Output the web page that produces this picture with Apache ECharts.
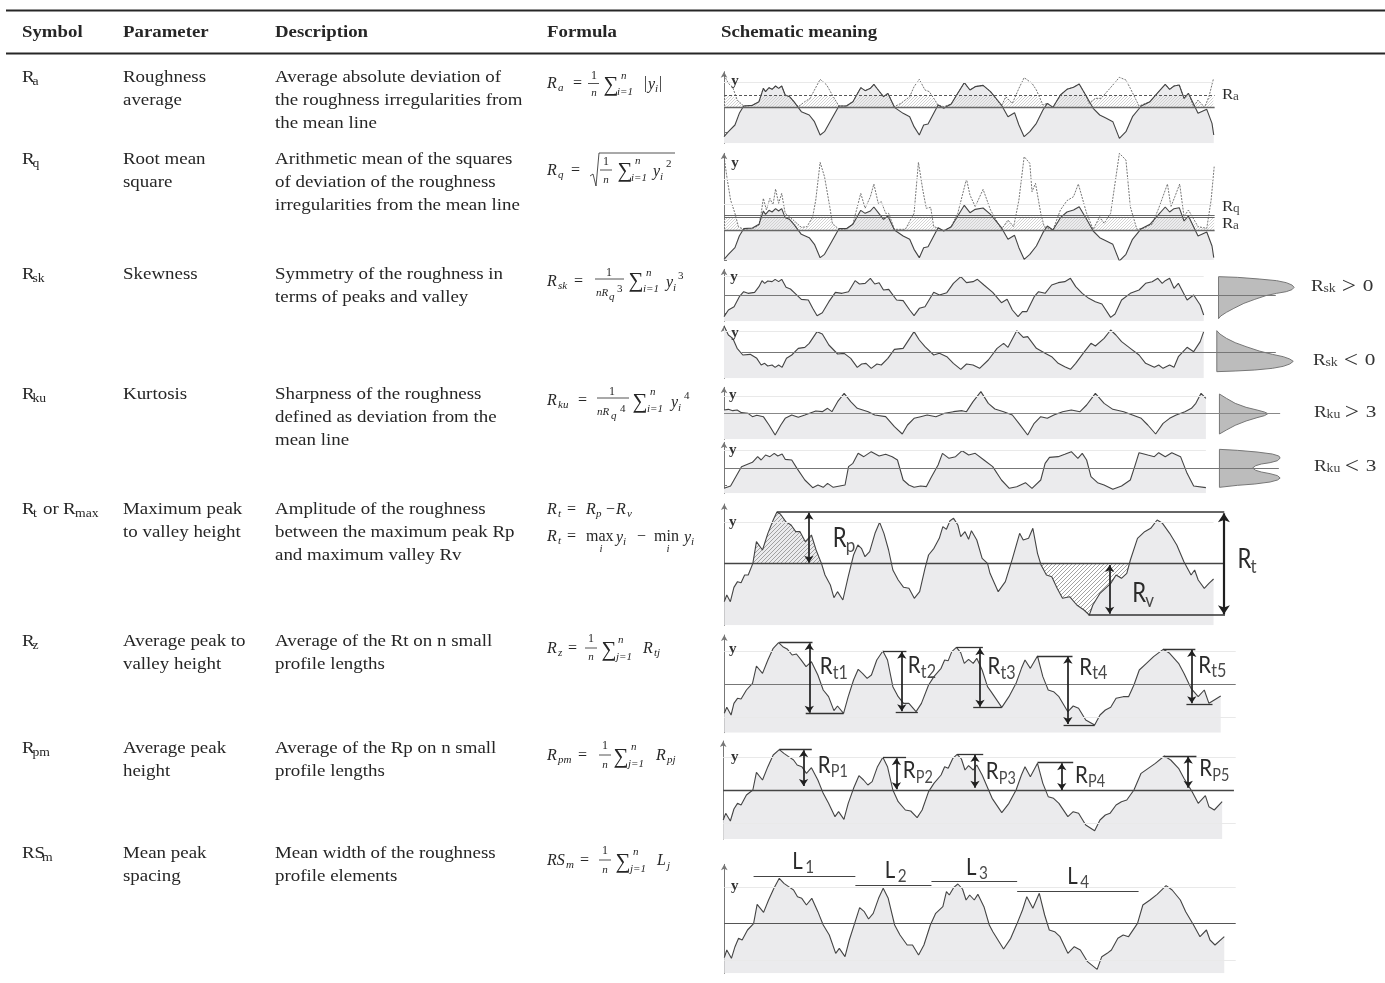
<!DOCTYPE html>
<html><head><meta charset="utf-8">
<style>html,body{margin:0;padding:0;background:#fff}#c{width:1385px;height:983px}</style>
<script src="https://cdn.jsdelivr.net/npm/echarts@6/dist/echarts.min.js"></script>
</head><body><div id="c"></div>
<script>
// ---------- table text ----------
const headers = ['Symbol','Parameter','Description','Formula','Schematic meaning'];
const symbols = [[['R',''],['a','s']],[['R',''],['q','s']],[['R',''],['sk','s']],[['R',''],['ku','s']],
  [['R',''],['t','s'],['or',''],['R',''],['max','s']],[['R',''],['z','s']],[['R',''],['pm','s']],[['RS',''],['m','s']]];
const parameters = [['Roughness','average'],['Root mean','square'],['Skewness'],['Kurtosis'],
  ['Maximum peak','to valley height'],['Average peak to','valley height'],['Average peak','height'],['Mean peak','spacing']];
const descriptions = [
  ['Average absolute deviation of','the roughness irregularities from','the mean line'],
  ['Arithmetic mean of the squares','of deviation of the roughness','irregularities from the mean line'],
  ['Symmetry of the roughness in','terms of peaks and valley'],
  ['Sharpness of the roughness','defined as deviation from the','mean line'],
  ['Amplitude of the roughness','between the maximum peak Rp','and maximum valley Rv'],
  ['Average of the Rt on n small','profile lengths'],
  ['Average of the Rp on n small','profile lengths'],
  ['Mean width of the roughness','profile elements']];

// ---------- profile readings: [position, level] ----------
const profileRa = [[55,410],[65,395],[80,375],[90,340],[100,318],[120,316],[135,305],[145,265],[150,275],[158,263],[165,268],[173,258],[180,265],[187,258],[195,285],[205,290],[215,305],[232,335],[250,345],[262,365],[275,405],[285,395],[300,360],[318,318],[335,318],[350,305],[368,263],[378,272],[390,265],[398,253],[408,270],[420,290],[430,280],[445,322],[465,340],[480,350],[490,380],[502,405],[512,375],[522,372],[545,315],[558,325],[575,312],[590,280],[605,248],[618,270],[630,260],[648,256],[665,275],[690,315],[705,350],[720,338],[730,375],[742,410],[755,395],[770,370],[785,330],[795,310],[808,322],[825,285],[840,268],[855,262],[868,252],[885,290],[900,325],[915,345],[930,355],[945,365],[960,415],[975,395],[990,350],[1010,318],[1030,305],[1050,275],[1065,253],[1075,268],[1085,258],[1097,255],[1108,295],[1118,280],[1140,340],[1160,328],[1172,370],[1176,405]];
const rectifiedRa = [[55,225],[65,250],[75,262],[85,300],[100,318],[120,316],[135,305],[145,265],[150,275],[158,263],[165,268],[173,258],[180,265],[187,258],[195,285],[205,290],[215,305],[225,320],[240,305],[252,295],[262,270],[275,238],[290,255],[305,290],[318,318],[335,318],[350,305],[368,263],[378,272],[390,265],[398,253],[408,270],[420,290],[430,280],[445,320],[460,310],[480,290],[490,260],[502,238],[515,270],[525,275],[545,315],[558,320],[575,312],[590,280],[605,248],[618,270],[630,260],[648,256],[665,275],[690,318],[700,290],[715,310],[730,265],[742,233],[760,250],[770,270],[785,315],[795,310],[808,322],[825,285],[840,268],[855,262],[868,252],[885,290],[890,310],[905,295],[918,295],[935,270],[945,255],[960,232],[975,240],[985,265],[1005,318],[1030,305],[1050,275],[1065,253],[1075,268],[1085,258],[1097,255],[1108,295],[1118,280],[1130,320],[1140,300],[1155,322],[1165,290],[1175,238]];
const squaredRq = [[55,470],[62,535],[70,600],[80,640],[88,680],[100,688],[120,686],[135,675],[140,640],[145,595],[152,630],[160,595],[167,615],[173,567],[180,610],[187,580],[195,640],[205,650],[232,682],[245,680],[258,650],[265,600],[275,487],[285,530],[297,620],[303,670],[318,688],[335,686],[350,672],[368,580],[378,625],[390,590],[398,552],[408,610],[415,605],[425,640],[432,640],[445,688],[470,688],[490,640],[500,487],[510,570],[518,625],[528,622],[535,680],[545,684],[558,692],[575,680],[590,640],[610,537],[618,585],[630,620],[648,568],[665,630],[690,688],[705,660],[718,680],[730,600],[742,470],[755,490],[760,575],[768,550],[780,640],[788,680],[808,690],[825,630],[840,602],[855,590],[866,552],[885,640],[900,688],[915,650],[925,670],[940,640],[950,550],[960,460],[975,480],[985,620],[1000,688],[1015,685],[1035,672],[1050,625],[1070,552],[1078,620],[1087,590],[1098,552],[1108,650],[1118,630],[1140,680],[1160,685],[1170,600],[1177,500]];
const profileSkPos = [[55,170],[65,150],[78,140],[90,110],[100,95],[110,100],[125,97],[135,80],[142,62],[148,70],[155,63],[165,65],[172,58],[180,65],[187,58],[197,82],[207,87],[220,103],[232,118],[248,120],[258,145],[268,167],[280,158],[295,125],[310,97],[325,100],[340,95],[355,62],[365,72],[378,70],[390,55],[400,72],[410,68],[420,90],[432,88],[450,120],[465,122],[480,150],[490,167],[502,145],[515,140],[535,97],[548,105],[565,98],[580,70],[597,50],[610,68],[625,65],[635,58],[650,75],[670,97],[690,128],[703,118],[715,150],[728,170],[738,155],[748,155],[765,110],[775,95],[790,100],[805,75],[820,68],[835,65],[848,55],[860,80],[875,100],[890,115],[905,125],[920,132],[940,172],[950,162],[965,120],[985,100],[1005,90],[1020,70],[1035,65],[1048,55],[1058,70],[1065,62],[1075,55],[1085,85],[1095,70],[1115,120],[1130,105],[1145,135],[1153,165]];
const profileSkNeg = [[55,198],[65,225],[75,235],[85,265],[98,285],[115,283],[130,295],[140,315],[148,310],[155,318],[165,315],[172,322],[180,315],[188,322],[198,295],[210,285],[225,265],[240,262],[250,250],[268,215],[280,222],[295,255],[315,282],[330,280],[345,295],[360,322],[370,312],[380,310],[392,325],[405,312],[415,315],[430,295],[445,268],[465,265],[480,235],[490,215],[502,240],[515,260],[535,285],[548,280],[565,290],[580,310],[597,328],[610,312],[625,315],[640,325],[660,300],[680,265],[695,250],[705,262],[725,212],[740,232],[750,230],[770,265],[790,280],[805,290],[820,310],[835,320],[848,328],[860,310],[880,275],[895,250],[905,258],[925,235],[940,210],[952,225],[965,245],[985,265],[1005,285],[1020,310],[1040,322],[1050,315],[1060,325],[1075,315],[1085,322],[1095,290],[1115,262],[1130,275],[1145,245],[1153,215]];
const profileKuHigh = [[55,450],[65,448],[75,452],[85,450],[95,458],[110,460],[120,470],[130,466],[145,470],[158,495],[172,525],[185,495],[195,475],[210,465],[225,472],[240,465],[265,453],[280,455],[292,445],[302,455],[315,425],[330,400],[345,425],[360,445],[385,455],[400,465],[425,470],[445,500],[463,522],[475,495],[490,475],[505,470],[520,465],[540,470],[560,460],[580,455],[600,452],[610,455],[625,425],[643,395],[660,430],[675,447],[695,455],[715,465],[730,490],[750,525],[765,490],[780,470],[795,475],[810,465],[830,455],[850,450],[870,455],[885,435],[905,400],[925,430],[945,448],[970,455],[990,465],[1010,475],[1025,495],[1043,522],[1060,490],[1075,475],[1090,465],[1110,455],[1125,445],[1135,430],[1147,400],[1158,415]];
const profileKuLow = [[55,685],[70,678],[82,650],[95,620],[120,607],[132,590],[140,600],[150,585],[160,590],[170,580],[178,588],[188,582],[195,598],[210,600],[222,625],[240,660],[258,683],[270,675],[282,682],[292,670],[305,682],[320,678],[332,675],[340,620],[350,610],[362,580],[375,590],[392,575],[410,588],[425,583],[440,590],[452,600],[465,660],[478,675],[490,682],[505,678],[518,680],[530,650],[545,615],[555,580],[570,595],[585,590],[600,572],[615,585],[630,580],[650,600],[670,620],[690,660],[708,685],[725,680],[745,668],[760,685],[780,660],[790,610],[800,592],[820,590],[835,583],[850,575],[865,595],[875,580],[885,600],[895,650],[910,668],[925,675],[945,688],[965,678],[985,660],[995,620],[1005,578],[1025,585],[1040,590],[1050,578],[1065,590],[1080,578],[1100,590],[1115,640],[1130,678],[1158,683]];
const profileRt = [[68,305],[75,285],[85,305],[95,262],[105,245],[115,248],[125,225],[135,225],[148,190],[158,125],[175,150],[190,100],[205,60],[215,37],[225,42],[240,65],[255,75],[268,95],[280,95],[295,125],[312,105],[325,150],[340,190],[350,225],[365,255],[375,293],[385,275],[400,300],[415,230],[430,165],[442,135],[452,145],[462,170],[475,155],[490,100],[503,67],[515,100],[528,150],[540,210],[555,240],[570,262],[585,265],[600,295],[615,275],[630,205],[640,165],[655,145],[670,115],[680,80],[690,88],[700,62],[710,55],[722,75],[730,110],[742,95],[752,118],[760,92],[775,120],[790,175],[805,190],[812,220],[835,275],[855,245],[875,175],[895,100],[905,120],[920,115],[932,85],[945,160],[955,195],[970,225],[985,230],[1000,265],[1015,295],[1035,290],[1055,315],[1075,330],[1090,345],[1100,315],[1120,280],[1135,265],[1150,250],[1165,225],[1180,235],[1195,220],[1205,180],[1225,115],[1245,95],[1262,85],[1280,60],[1295,70],[1315,100],[1335,135],[1355,185],[1375,225],[1385,210],[1395,240],[1412,265],[1425,250],[1438,237]];
const profileRz = [[68,640],[75,622],[87,645],[95,610],[105,595],[115,597],[130,570],[147,550],[158,498],[175,520],[190,480],[205,445],[220,428],[232,440],[245,448],[258,465],[270,462],[282,478],[297,500],[312,485],[330,525],[345,570],[360,590],[375,632],[385,618],[402,640],[415,590],[430,540],[443,508],[455,520],[468,535],[480,525],[495,480],[512,453],[525,480],[540,560],[555,590],[570,610],[585,610],[605,635],[620,610],[640,555],[655,530],[675,505],[685,480],[695,482],[705,455],[718,442],[730,458],[740,490],[752,478],[765,490],[775,475],[790,510],[805,560],[815,575],[845,622],[865,590],[885,550],[900,505],[910,480],[925,505],[945,468],[960,530],[975,570],[990,575],[1005,590],[1030,635],[1045,618],[1060,625],[1080,660],[1105,675],[1120,645],[1135,630],[1150,622],[1165,595],[1185,590],[1200,590],[1215,555],[1230,510],[1250,490],[1270,470],[1297,448],[1315,460],[1340,490],[1355,520],[1375,565],[1395,590],[1412,570],[1425,610],[1440,600],[1458,588]];
const profileRpm = [[65,255],[72,235],[85,258],[95,222],[105,205],[115,210],[130,180],[148,165],[158,112],[175,135],[190,95],[205,60],[222,44],[235,55],[248,65],[262,75],[272,90],[285,95],[298,115],[312,98],[330,135],[345,175],[360,205],[378,245],[388,230],[403,253],[415,205],[430,160],[445,122],[458,135],[470,150],[482,140],[497,95],[512,67],[525,95],[540,165],[555,200],[575,225],[590,228],[608,248],[622,225],[640,170],[655,145],[675,120],[685,95],[695,100],[708,70],[720,58],[732,72],[742,105],[752,92],[765,105],[775,90],[790,120],[808,165],[818,190],[845,233],[865,205],[885,165],[900,120],[910,95],[925,125],[945,85],[960,145],[975,185],[990,190],[1005,205],[1030,245],[1045,230],[1060,235],[1080,270],[1105,287],[1120,255],[1135,240],[1148,235],[1165,210],[1180,200],[1195,195],[1215,165],[1235,115],[1255,100],[1275,85],[1300,63],[1318,75],[1340,100],[1355,130],[1378,170],[1395,205],[1415,182],[1425,215],[1440,225],[1462,200]];
const profileRsm = [[68,668],[75,645],[88,670],[98,635],[108,610],[118,615],[133,585],[150,566],[160,508],[178,532],[192,495],[207,460],[222,430],[235,445],[248,455],[262,465],[273,485],[285,490],[298,510],[313,490],[330,530],[345,570],[362,600],[380,655],[390,640],[406,665],[418,615],[433,565],[447,518],[460,530],[472,552],[485,535],[500,490],[513,460],[527,490],[545,570],[560,600],[580,630],[595,630],[612,660],[627,630],[645,570],[660,535],[680,515],[690,470],[698,480],[710,458],[722,447],[735,462],[745,495],[755,480],[768,495],[778,478],[795,515],[810,570],[820,590],[850,642],[870,610],[888,565],[903,525],[915,485],[932,520],[950,475],[965,540],[978,585],[993,590],[1008,605],[1030,655],[1048,635],[1065,645],[1085,680],[1112,703],[1125,665],[1140,655],[1152,645],[1170,610],[1185,600],[1200,605],[1225,565],[1240,510],[1260,495],[1280,478],[1305,452],[1322,465],[1345,495],[1360,530],[1382,570],[1400,605],[1418,585],[1428,615],[1442,630],[1468,605]];
// height distributions beside the skewness and kurtosis profiles
const densitySkPos = [[1187,50],[1230,52],[1280,57],[1320,62],[1342,68],[1355,75],[1360,82],[1355,89],[1342,95],[1320,100],[1295,107],[1270,118],[1245,130],[1222,145],[1205,157],[1192,168],[1187,176]];
const densitySkNeg = [[1183,212],[1190,222],[1205,235],[1225,248],[1250,260],[1280,273],[1310,283],[1335,290],[1350,297],[1358,304],[1350,312],[1335,319],[1310,325],[1270,330],[1225,333],[1183,335]];
const densityKuHigh = [[1189,402],[1205,415],[1225,430],[1250,442],[1275,450],[1292,456],[1300,461],[1292,467],[1275,473],[1250,483],[1225,496],[1205,510],[1189,522]];
const densityKuLow = [[1189,568],[1230,571],[1275,576],[1310,582],[1325,588],[1328,594],[1322,602],[1305,608],[1285,612],[1272,617],[1265,624],[1272,631],[1285,636],[1305,641],[1322,647],[1328,654],[1322,660],[1305,666],[1270,672],[1230,676],[1189,682]];
// peak / valley levels: [peak x, far x, level]
const levelsRz = [[222,315,428],[296,402,640],[512,578,453],[548,610,636],[718,792,442],[765,845,622],[945,1043,468],[1018,1105,675],[1297,1387,448],[1362,1435,612]];
const arrowsRz = [[306,430,638],[565,455,634],[784,445,620],[1030,470,672],[1377,450,610]];
const levelsRpm = [[222,313,44],[512,577,67],[720,793,58],[945,1045,82],[1300,1390,63]];
const arrowsRpm = [[290,46,153],[550,70,163],[770,60,158],[1013,85,165],[1367,65,158]];
const spacingL = [[150,435,425],[435,648,452],[648,888,440],[888,1228,468]];

// ---------- helpers ----------
const SERIF='"Liberation Serif"', LBL='"Lato"';
const INK='#262626', CURVE='#444', FILL='#ebebed';
const graphics=[], grids=[], xAxes=[], yAxes=[], series=[];
function txt(x,y,text,font,fill,align,sx){graphics.push({type:'text',x,y,scaleX:sx||1,silent:true,z:50,style:{text,font,fill:fill||INK,textAlign:align||'left',textBaseline:'middle',textVerticalAlign:'middle'}});}
function rule(x1,y1,x2,y2,w,c){graphics.push({type:'line',silent:true,z:50,shape:{x1,y1,x2,y2},style:{stroke:c||INK,lineWidth:w||1}});}

function hatch(color,step){const c=document.createElement('canvas');c.width=c.height=step;const g=c.getContext('2d');g.strokeStyle=color;g.lineWidth=0.9;
  g.beginPath();g.moveTo(-1,step+1);g.lineTo(step+1,-1);g.moveTo(-1,1);g.lineTo(1,-1);g.moveTo(step-1,step+1);g.lineTo(step+1,step-1);g.stroke();return {image:c,repeat:'repeat'};}

function panel(p){
  const i=grids.length; p.i=i;
  grids.push({left:p.ox+p.L/p.sx,width:(p.R-p.L)/p.sx,top:p.oy+p.T/3,height:(p.B-p.T)/3,containLabel:false});
  xAxes.push({gridIndex:i,type:'value',min:p.L,max:p.R,show:false});
  yAxes.push({gridIndex:i,type:'value',min:p.mean-p.B,max:p.mean-p.T,
    axisLine:{show:true,onZero:false,symbol:['none','arrow'],symbolSize:[5,6],lineStyle:{color:'#777',width:1}},
    axisTick:{show:true,inside:true,length:3,customValues:p.ticks.map(t=>p.mean-t),lineStyle:{color:'#777'}},
    axisLabel:{show:false},splitLine:{show:false}});
  return p;
}
const H=(p,data,base)=>data.map(d=>[d[0],(base===undefined?p.mean:base)-d[1]]);
function seg(p,x1,y1,x2,y2,o){o=o||{};return [{coord:[x1,p.mean-y1],symbol:o.a?'arrow':'none',symbolSize:o.s||8,lineStyle:{color:o.c||'#555',width:o.w||1.2,type:o.t||'solid'}},{coord:[x2,p.mean-y2],symbol:o.a?'arrow':'none',symbolSize:o.s||8}];}
function profile(p,data,base,marks){
  series.push({type:'line',xAxisIndex:p.i,yAxisIndex:p.i,data:H(p,data,base),showSymbol:false,symbol:'none',z:2,silent:true,
    lineStyle:{width:0},areaStyle:{color:FILL,opacity:1,origin:'start'}});
  series.push({type:'line',xAxisIndex:p.i,yAxisIndex:p.i,data:H(p,data,base),showSymbol:false,symbol:'none',z:5,silent:true,
    lineStyle:{width:1.1,color:CURVE},
    markLine:{silent:true,animation:false,symbol:'none',label:{show:false},lineStyle:{type:'solid'},data:marks,z:6}});
}
function hatched(p,data,base,color,clip){
  series.push({type:'line',xAxisIndex:p.i,yAxisIndex:p.i,showSymbol:false,symbol:'none',z:3,silent:true,
    data:H(p,data,base).map(d=>[d[0],clip(d[1])]),lineStyle:{width:0},areaStyle:{color,opacity:1,origin:0}});
}
function dashedCurve(p,data,base){
  series.push({type:'line',xAxisIndex:p.i,yAxisIndex:p.i,showSymbol:false,symbol:'none',z:4,silent:true,
    data:H(p,data,base),lineStyle:{width:0.9,color:'#666',type:[2,1.2]}});
}
function density(p,shape){
  series.push({type:'custom',xAxisIndex:p.i,yAxisIndex:p.i,z:1,silent:true,data:[[shape[0][0],p.mean-shape[0][1]]],
    renderItem:(params,api)=>({type:'polygon',shape:{points:shape.map(s=>api.coord([s[0],p.mean-s[1]]))},style:{fill:'#bcbcbc',stroke:'#777',lineWidth:1}})});
}
const px=(p,x,y)=>[p.ox+x/p.sx,p.oy+y/3];
function plabel(p,x,y,main,sub,font,subFont,dx,dy,sc){const [a,b]=px(p,x,y);txt(a,b,main,font,'#2b2b2b','left',sc);
  if(sub)txt(a+dx,b+dy,sub,subFont,'#4a4a4a','left',sc);}
const yMark=(p,x,y)=>{const [a,b]=px(p,x,y);txt(a,b,'y','bold 15px '+SERIF,'#333','center');};
function compare(x,y,sub,op,num){ // serif label beside a height distribution, e.g. Rsk > 0
  txt(x,y,'R','16px '+SERIF,'#333','left',1.2);
  txt(x+12.5,y+2,sub,'12px '+SERIF,'#444','left',1.15);
  txt(x+38,y,op,'23px '+SERIF,'#333','center',1.1);
  txt(x+57,y,num,'17px '+SERIF,'#333','center',1.25);
}

// ---------- table ----------
const TX=1.14;
const COLX=[22,123,275,547,721];
rule(6,10.5,1385,10.5,2.2); rule(6,53.5,1385,53.5,2.2);
headers.forEach((h,i)=>txt(COLX[i],32.5,h,'bold 16.5px '+SERIF,INK,'left',TX));
const rowY=[[77,100,123],[159,182,205],[274,297],[394,417,440],[509,532,555],[641,664],[748,771],[853,876]];
const symbolX=[[22,32.5],[22,32.5],[22,32.5],[22,32.5],[22,33,43,63,75],[22,32.5],[22,32.5],[22,42]];
const TF='16.6px '+SERIF;
symbols.forEach((parts,r)=>{const y=rowY[r][0]+1;
  parts.forEach(([t,k],j)=>txt(symbolX[r][j],k==='s'?y+4:y,t,k==='s'?'12px '+SERIF:TF,INK,'left',TX));});
parameters.forEach((l,r)=>l.forEach((t,j)=>txt(123,rowY[r][j]+1,t,TF,INK,'left',TX)));
descriptions.forEach((l,r)=>l.forEach((t,j)=>txt(275,rowY[r][j]+1,t,TF,INK,'left',TX)));

// ---------- formulas ----------
const FI='italic 16px '+SERIF, FR='16px '+SERIF, FS='italic 11px '+SERIF, FN='11px '+SERIF, FF='12px '+SERIF, FG='21px '+SERIF;
const formulaParts=[
 ['R',547,84,FI],['a',558,88,FS],['=',573,84,FR],['1',594,76,FF,'c'],['n',594,93,FS,'c'],['∑',611,85,FG,'c'],['n',621,76,FS],['i=1',617,92,FS],['|',644,84,FR],['y',648,85,FI],['i',655,89,FS],['|',659,84,FR],
 ['R',547,171,FI],['q',558,175,FS],['=',571,171,FR],['1',606,162,FF,'c'],['n',606,180,FS,'c'],['∑',625,171,FG,'c'],['n',635,161,FS],['i=1',631,178,FS],['y',653,172,FI],['i',660,177,FS],['2',666,164,FN],
 ['R',547,282,FI],['sk',558,286,FS],['=',574,282,FR],['1',609,273,FF,'c'],['nR',596,293,FS],['q',609,297,FS],['3',617,289,FN],['∑',636,281,FG,'c'],['n',646,273,FS],['i=1',643,289,FS],['y',666,283,FI],['i',673,288,FS],['3',678,276,FN],
 ['R',547,401,FI],['ku',558,405,FS],['=',578,401,FR],['1',612,392,FF,'c'],['nR',597,412,FS],['q',611,416,FS],['4',620,409,FN],['∑',640,402,FG,'c'],['n',650,392,FS],['i=1',647,409,FS],['y',671,403,FI],['i',678,408,FS],['4',684,396,FN],
 ['R',547,510,FI],['t',558,514,FS],['=',567,510,FR],['R',586,510,FI],['p',596,514,FS],['−',606,510,FR],['R',616,510,FI],['v',627,514,FS],
 ['R',547,537,FI],['t',558,541,FS],['=',567,537,FR],['max',586,537,FR],['i',601,549,FS,'c'],['y',616,538,FI],['i',623,542,FS],['−',637,537,FR],['min',654,537,FR],['i',668,549,FS,'c'],['y',684,538,FI],['i',691,542,FS],
 ['R',547,649,FI],['z',558,653,FS],['=',568,649,FR],['1',591,639,FF,'c'],['n',591,657,FS,'c'],['∑',609,650,FG,'c'],['n',618,640,FS],['j=1',616,657,FS],['R',643,649,FI],['tj',654,653,FS],
 ['R',547,756,FI],['pm',558,760,FS],['=',578,756,FR],['1',605,746,FF,'c'],['n',605,765,FS,'c'],['∑',621,757,FG,'c'],['n',631,747,FS],['j=1',628,764,FS],['R',656,756,FI],['pj',667,760,FS],
 ['RS',547,861,FI],['m',566,865,FS],['=',580,861,FR],['1',605,851,FF,'c'],['n',605,870,FS,'c'],['∑',623,862,FG,'c'],['n',633,852,FS],['j=1',630,869,FS],['L',657,861,FI],['j',667,866,FS]];
formulaParts.forEach(f=>txt(f[1],f[2],f[0],f[3],INK,f[4]==='c'?'center':'left'));
[[588,599,83.5],[600,612,170],[595,624,279],[597,629,398],[585,597,648],[599,611,755],[599,611,860]].forEach(b=>rule(b[0],b[2],b[1],b[2],0.8));
graphics.push({type:'polyline',silent:true,z:50,shape:{points:[[590,176],[593,174],[596,186],[599,153],[675,153]]},style:{stroke:INK,lineWidth:0.8,fill:'none'}});

// ---------- panels ----------
const Z2={ox:700,oy:0,sx:1568/685}, Z3={ox:700,oy:260,sx:1568/685}, Z4={ox:700,oy:500,sx:2.8}, Z5={ox:700,oy:735,sx:2.8};
const hatchLight=hatch('#cfcfcf',3), hatchDark=hatch('#999',4);
const faint=(p,ys,xEnd)=>ys.map(y=>seg(p,p.L,y,xEnd,y,{c:'#e9e9e9',w:1}));
const RL='15.5px '+SERIF, RS0='12px '+SERIF;

// Ra
let p=panel({...Z2,L:55,R:1300,T:215,B:430,mean:322,ticks:[247,398]});
hatched(p,rectifiedRa,322,hatchLight,h=>Math.max(0,Math.min(h,35)));
dashedCurve(p,rectifiedRa,322);
profile(p,profileRa,322,[...faint(p,[247],1175),seg(p,55,322,1178,322,{c:'#666',w:1.3}),seg(p,55,287,1178,287,{c:'#555',w:1,t:[3,2]})]);
yMark(p,80,243);
plabel(p,1195,285,'R','a',RL,RS0,11,2,1.1);

// Rq
p=panel({...Z2,L:55,R:1300,T:460,B:780,mean:690,ticks:[537,613,780]});
hatched(p,squaredRq,690,hatchLight,h=>Math.max(0,Math.min(h,40)));
dashedCurve(p,squaredRq,690);
profile(p,profileRa,322,[...faint(p,[537,613],1175),seg(p,55,690,1178,690,{c:'#666',w:1.3}),seg(p,55,645,1178,645,{c:'#666',w:1.2}),seg(p,55,653,1178,653,{c:'#666',w:1.2})]);
yMark(p,80,490);
plabel(p,1195,620,'R','q',RL,RS0,11,2,1.1);
plabel(p,1195,673,'R','a',RL,RS0,11,2,1.1);

// Rsk > 0
p=panel({...Z3,L:55,R:1400,T:28,B:184,mean:105,ticks:[50,160]});
profile(p,profileSkPos,105,[...faint(p,[50],1153),seg(p,55,105,1318,105,{c:'#777',w:1.2})]);
density(p,densitySkPos); yMark(p,78,50);
compare(1311,287,'sk','>','0');

// Rsk < 0
p=panel({...Z3,L:55,R:1400,T:198,B:355,mean:277,ticks:[215,328]});
profile(p,profileSkNeg,277,[...faint(p,[215],1153),seg(p,95,277,1318,277,{c:'#777',w:1.2})]);
density(p,densitySkNeg); yMark(p,80,218);
compare(1313,361,'sk','<','0');

// Rku > 3
p=panel({...Z3,L:55,R:1400,T:382,B:538,mean:461,ticks:[408,513]});
profile(p,profileKuHigh,461,[...faint(p,[408],1158),seg(p,55,461,1328,461,{c:'#888',w:1.2})]);
density(p,densityKuHigh); yMark(p,75,405);
compare(1314,413,'ku','>','3');

// Rku < 3
p=panel({...Z3,L:55,R:1400,T:547,B:700,mean:624,ticks:[572,675]});
profile(p,profileKuLow,624,[...faint(p,[572],1158),seg(p,55,624,1325,624,{c:'#777',w:1.2})]);
density(p,densityKuLow); yMark(p,75,570);
compare(1314,467,'ku','<','3');

// Rt
p=panel({...Z4,L:68,R:1500,T:12,B:376,mean:189,ticks:[67,315]});
hatched(p,profileRt.filter(d=>d[0]>=148&&d[0]<=340),189,hatchDark,h=>Math.max(0,h));
hatched(p,profileRt.filter(d=>d[0]>=945&&d[0]<=1205),189,hatchDark,h=>Math.min(0,h));
const ARW={a:true,c:'#1f1f1f',w:1.7,s:7};
profile(p,profileRt,189,[...faint(p,[67],1438),seg(p,68,189,1465,189,{c:'#444',w:1.3}),
  seg(p,215,36,1468,36,{c:'#333',w:1.7}),seg(p,1088,345,1470,345,{c:'#333',w:1.7}),
  seg(p,305,38,305,188,ARW),seg(p,1467,40,1467,343,{...ARW,w:2.2,s:9}),seg(p,1147,195,1147,341,ARW)]);
yMark(p,92,65);
const LF='26px '+LBL, LS='20px '+LBL, SC=0.85;
plabel(p,372,115,'R','p',LF,LS,13,7,SC);
plabel(p,1505,180,'R','t',LF,LS,13,7,SC);
plabel(p,1210,282,'R','v',LF,LS,13,7,SC);

// Rz
p=panel({...Z4,L:68,R:1500,T:405,B:698,mean:552,ticks:[453,652]});
profile(p,profileRz,552,[...faint(p,[453,652],1500),seg(p,68,552,1500,552,{c:'#777',w:1.1}),
  ...levelsRz.map(l=>seg(p,l[0],l[2],l[1],l[2],{c:'#333',w:1.3})),
  ...arrowsRz.map(a=>seg(p,a[0],a[1],a[0],a[2],ARW))]);
yMark(p,92,448);
const RF='24px '+LBL, RS2='19px '+LBL;
[[335,500,'t1'],[582,497,'t2'],[805,500,'t3'],[1062,502,'t4'],[1395,495,'t5']].forEach(l=>plabel(p,l[0],l[1],'R',l[2],RF,RS2,13,6,SC));

// Rpm
p=panel({...Z5,L:65,R:1500,T:18,B:312,mean:165,ticks:[67,265]});
profile(p,profileRpm,165,[...faint(p,[67,265],1500),seg(p,65,165,1495,165,{c:'#444',w:1.3}),
  ...levelsRpm.map(l=>seg(p,l[0],l[2],l[1],l[2],{c:'#333',w:1.3})),
  ...arrowsRpm.map(a=>seg(p,a[0],a[1],a[0],a[2],ARW))]);
yMark(p,97,65);
[[330,90,'P1'],[568,107,'P2'],[800,110,'P3'],[1050,120,'P4'],[1398,100,'P5']].forEach(l=>plabel(p,l[0],l[1],'R',l[2],RF,'17px '+LBL,13,7,SC));

// RSm
p=panel({...Z5,L:68,R:1500,T:388,B:715,mean:566,ticks:[458,677]});
profile(p,profileRsm,566,[...faint(p,[458,677],1500),seg(p,68,566,1500,566,{c:'#555',w:1.2}),
  ...spacingL.map(l=>seg(p,l[0],l[2],l[1],l[2],{c:'#444',w:1.2}))]);
yMark(p,97,452);
[[258,380,'1'],[517,405,'2'],[745,397,'3'],[1028,423,'4']].forEach(l=>plabel(p,l[0],l[1],'L',l[2],'24px '+LBL,'18px '+LBL,13,6,SC));

const chart=echarts.init(document.getElementById('c'),null,{renderer:'canvas',width:1385,height:983});
chart.setOption({animation:false,backgroundColor:'#fff',grid:grids,xAxis:xAxes,yAxis:yAxes,series,graphic:{elements:graphics}});
</script></body></html>
